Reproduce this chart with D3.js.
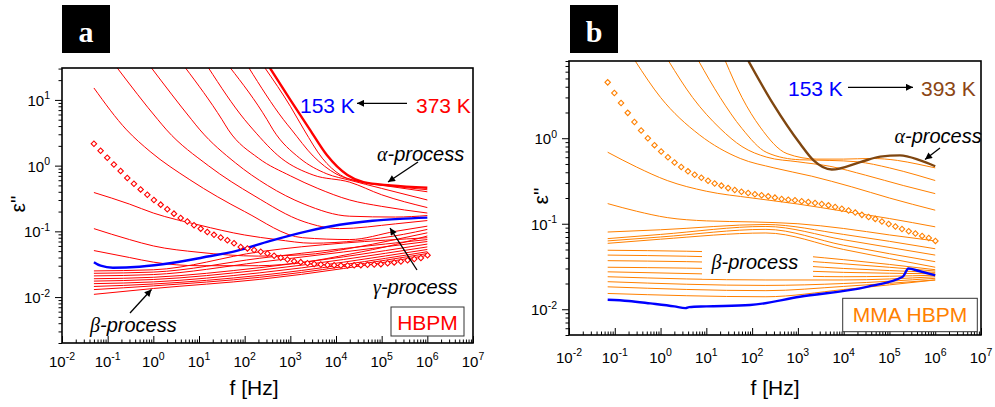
<!DOCTYPE html>
<html><head><meta charset="utf-8">
<script src="https://cdn.jsdelivr.net/npm/d3@7"></script>
<style>body{margin:0;background:#fff}svg{display:block}</style>
</head><body>
<svg id="c" width="995" height="407"></svg>
<script>
// ---------------- DATA ----------------
const xTickExps = [-2,-1,0,1,2,3,4,5,6,7];
const aYTickExps = [-2,-1,0,1];
const bYTickExps = [-2,-1,0];

// frequencies of the diamond-marked spectra (Hz)
const diamondFreq = [0.05,0.07,0.098,0.137,0.192,0.269,0.376,0.527,0.738,1.03,1.45,2.02,2.83,3.97,5.56,7.78,10.9,15.2,21.3,29.9,41.8,58.5,81.9,115,161,225,315,441,617,864,1210,1690,2370,3320,4650,6510,9110,12800,17900,25000,35000,49000,68600,96100,135000,188000,264000,369000,517000,723000,1010000];
const aDiamonds = [2.15,1.68,1.32,1.04,0.83,0.65,0.53,0.435,0.36,0.30,0.255,0.217,0.186,0.16,0.141,0.124,0.11,0.098,0.0885,0.0805,0.073,0.066,0.058,0.055,0.052,0.049,0.046,0.0425,0.0396,0.0373,0.0352,0.034,0.0328,0.0319,0.0313,0.0308,0.0305,0.0303,0.0303,0.0304,0.0306,0.031,0.0313,0.0317,0.0327,0.0337,0.0347,0.0364,0.038,0.0392,0.0433];
const bDiamonds = [4.50,3.38,2.58,1.98,1.55,1.23,1.00,0.83,0.70,0.60,0.52,0.46,0.41,0.374,0.345,0.318,0.296,0.279,0.261,0.248,0.237,0.229,0.221,0.215,0.209,0.202,0.195,0.191,0.188,0.183,0.18,0.175,0.17,0.164,0.157,0.150,0.143,0.135,0.127,0.12,0.114,0.106,0.0995,0.0927,0.0869,0.0818,0.0769,0.0721,0.0683,0.063];

// Panel a (HBPM): [f (Hz), eps'']
const aHot373 = [[316,35],[1000,10],[2700,3.5],[6300,1.45],[17800,0.72],[40000,0.56],[160000,0.50],[1e6,0.46]];
const aCold153 = [[0.05,0.034],[0.07,0.030],[0.13,0.028],[0.5,0.029],[2.5,0.033],[12,0.040],[70,0.051],[350,0.071],[2300,0.10],[12000,0.126],[63000,0.145],[250000,0.155],[1e6,0.162]];
const aUpper = [
  [[275,31],[1000,8],[2000,3.5],[5000,1.3],[12600,0.72],[40000,0.56],[160000,0.49],[1e6,0.43]],
  [[123,31],[710,5],[1070,3.5],[3160,1.4],[1e4,0.75],[31600,0.57],[160000,0.48],[1e6,0.40]],
  [[48,31],[310,5],[420,3.5],[1600,1.3],[6300,0.75],[20000,0.6],[1e5,0.45],[1e6,0.30]],
  [[16,31],[100,5],[155,3.5],[630,1.3],[3160,0.72],[20000,0.56],[1e5,0.36],[1e6,0.23]],
  [[5,31],[32,5],[44,3.5],[200,1.3],[1000,0.7],[4000,0.45],[20000,0.3],[1e5,0.24],[1e6,0.19]],
  [[0.9,31],[6.9,5],[10.5,3.5],[63,1.1],[316,0.5],[2000,0.26],[20000,0.17],[2e5,0.165],[1e6,0.174]],
  [[0.16,31],[1.26,5],[1.95,3.5],[16,1.0],[160,0.35],[2000,0.14],[12000,0.11],[2e5,0.13],[1e6,0.146]],
  [[0.05,15.2],[0.26,3.5],[0.85,1.64],[6.3,0.61],[100,0.2],[1860,0.08],[2e4,0.075],[2e5,0.1],[1e6,0.12]],
  [[0.05,0.39],[0.3,0.26],[1,0.19],[10,0.125],[100,0.088],[500,0.075],[3000,0.066],[3e4,0.072],[3e5,0.09],[1e6,0.107]],
  [[0.05,0.11],[0.3,0.075],[1,0.06],[10,0.048],[200,0.042],[2000,0.044],[2e4,0.055],[2e5,0.075],[1e6,0.095]],
  [[0.05,0.051],[0.3,0.04],[1,0.034],[10,0.03],[200,0.03],[2000,0.034],[2e4,0.045],[2e5,0.063],[1e6,0.085]]
];
const aBundleFreq = [0.05,1,215,1e6];
const aBundle = [
  [0.025,0.026,0.049,0.080],
  [0.023,0.024,0.039,0.075],
  [0.021,0.022,0.034,0.070],
  [0.019,0.020,0.028,0.064],
  [0.0175,0.0185,0.0257,0.058],
  [0.016,0.017,0.0234,0.053],
  [0.0145,0.0158,0.0214,0.049],
  [0.013,0.0148,0.020,0.046],
  [0.011,0.0135,0.0186,0.043]
];

// Panel b (MMA HBPM)
const bHot393 = [[83,8],[290,2.5],[1120,0.86],[2200,0.55],[5500,0.43],[23000,0.525],[63000,0.61],[170000,0.63],[470000,0.55],[1e6,0.47]];
const bCold153 = [[0.07,0.0129],[0.2,0.0125],[0.6,0.0117],[2,0.0108],[3.5,0.0103],[4.2,0.0106],[10,0.0108],[90,0.0112],[1100,0.014],[32000,0.0183],[1.95e5,0.024],[2.6e5,0.030],[4.4e5,0.028],[1e6,0.025]];
const bUpper = [
  [[26,8],[60,3],[150,1.35],[580,0.66],[2600,0.57],[1e4,0.57],[4e4,0.58],[1.5e5,0.55],[4e5,0.5],[1e6,0.45]],
  [[6.8,8],[20,3],[60,1.3],[210,0.68],[1100,0.56],[5000,0.55],[2e4,0.53],[1e5,0.45],[4e5,0.37],[1e6,0.32]],
  [[1.5,8],[5,3],[20,1.3],[60,0.8],[210,0.6],[1000,0.53],[5000,0.47],[3e4,0.37],[2e5,0.28],[1e6,0.225]],
  [[0.28,8],[1,3],[7,1.1],[55,0.58],[300,0.45],[2000,0.36],[1.5e4,0.27],[1e5,0.2],[1e6,0.144]],
  [[0.07,0.686],[0.3,0.46],[1.4,0.32],[10,0.24],[100,0.2],[1000,0.17],[1e4,0.14],[1e5,0.115],[1e6,0.092]],
  [[0.07,0.172],[0.3,0.14],[1.4,0.118],[10,0.108],[100,0.105],[1000,0.1],[1e4,0.088],[1e5,0.074],[1e6,0.063]],
  [[0.07,0.08],[1,0.085],[200,0.098],[1e4,0.075],[1e6,0.051]],
  [[0.07,0.067],[1,0.075],[200,0.093],[1e4,0.065],[1e6,0.043]],
  [[0.07,0.063],[1,0.07],[200,0.086],[1e4,0.056],[1e6,0.036]],
  [[0.07,0.059],[1,0.066],[200,0.078],[1e4,0.05],[1e6,0.031]]
];
const bBundleFreq = [0.07,200,1e4,1e6];
const bBundle = [
  [0.049,0.045,0.038,0.029],
  [0.043,0.039,0.034,0.028],
  [0.037,0.034,0.030,0.027],
  [0.031,0.029,0.027,0.026],
  [0.0274,0.025,0.024,0.025],
  [0.024,0.022,0.022,0.024],
  [0.021,0.019,0.020,0.023],
  [0.0183,0.0165,0.0185,0.022],
  [0.0153,0.014,0.017,0.022]
];

// ---------------- DRAWING ----------------
const FONT = "'Liberation Sans', Arial, sans-serif";
const svg = d3.select('#c');
const defs = svg.append('defs');
defs.append('marker').attr('id','ah').attr('viewBox','0 0 10 10').attr('refX',10).attr('refY',5)
  .attr('markerWidth',10).attr('markerHeight',7).attr('markerUnits','userSpaceOnUse').attr('orient','auto')
  .append('path').attr('d','M0,0L10,5L0,10Z').attr('fill','#000');

function drawPanel(p){
  const x = d3.scaleLog().domain([1e-2,1e7]).range([p.l,p.r]);
  const y = d3.scaleLog().domain(p.yDom).range([p.b,p.t]);
  const g = svg.append('g');
  defs.append('clipPath').attr('id','clip'+p.id).append('rect')
    .attr('x',p.l).attr('y',p.t).attr('width',p.r-p.l).attr('height',p.b-p.t);
  const cg = g.append('g').attr('clip-path',`url(#clip${p.id})`);
  const line = d3.line().x(d=>x(d[0])).y(d=>y(d[1])).curve(d3.curveMonotoneX);
  const thin = p.upper.concat(p.bundle.map(v=>v.map((e,i)=>[p.bundleFreq[i],e])));
  thin.forEach(c=>cg.append('path').attr('d',line(c)).attr('fill','none')
      .attr('stroke',p.color).attr('stroke-width',1));
  cg.append('path').attr('d',line(p.cold)).attr('fill','none').attr('stroke','#0000ff').attr('stroke-width',2.4);
  cg.append('path').attr('d',line(p.hot)).attr('fill','none').attr('stroke',p.hotColor).attr('stroke-width',2.4);
  const sym = d3.symbol().type(d3.symbolSquare).size(15);
  cg.selectAll('path.dm').data(p.diamonds).join('path').attr('class','dm')
    .attr('d',sym()).attr('transform',(d,i)=>`translate(${x(p.diamondFreq[i])},${y(d)}) rotate(45)`)
    .attr('fill','#fff').attr('stroke',p.color).attr('stroke-width',1.1);

  // axes
  const xMajor = xTickExps.map(e=>Math.pow(10,e));
  const xMinor = [];
  for(let e=-2;e<7;e++) for(let k=2;k<10;k++) xMinor.push(k*Math.pow(10,e));
  const yMinor = [];
  for(let e=-3;e<2;e++) for(let k=2;k<10;k++){const v=k*Math.pow(10,e); if(v>=p.yDom[0]&&v<=p.yDom[1]) yMinor.push(v);}
  const yMajor = p.yExps.map(e=>Math.pow(10,e));
  const ax = g.append('g').attr('transform',`translate(0,${p.b})`);
  ax.call(d3.axisBottom(x).tickValues(xMinor).tickSize(-3.5).tickFormat(''));
  ax.append('g').call(d3.axisBottom(x).tickValues(xMajor).tickSize(-7).tickFormat(''));
  const ay = g.append('g').attr('transform',`translate(${p.l},0)`);
  ay.call(d3.axisLeft(y).tickValues(yMinor).tickSize(3.5).tickFormat(''));
  ay.append('g').call(d3.axisLeft(y).tickValues(yMajor).tickSize(7).tickFormat(''));
  g.selectAll('.domain').remove();
  g.selectAll('.tick line').attr('stroke','#000').attr('stroke-width',1);
  g.append('rect').attr('x',p.l).attr('y',p.t).attr('width',p.r-p.l).attr('height',p.b-p.t)
    .attr('fill','none').attr('stroke','#000').attr('stroke-width',1.6);

  // tick labels
  xTickExps.forEach(e=>{
    const t = g.append('text').attr('x',x(Math.pow(10,e))).attr('y',p.xLabY).attr('text-anchor','middle')
      .attr('font-family',FONT).attr('font-size',15).attr('fill','#000');
    t.append('tspan').text('10');
    t.append('tspan').attr('dy',-6.5).attr('font-size',10.5).text(String(e).replace('-','-'));
  });
  p.yExps.forEach(e=>{
    const t = g.append('text').attr('x',p.l-12).attr('y',y(Math.pow(10,e))+6).attr('text-anchor','end')
      .attr('font-family',FONT).attr('font-size',15).attr('fill','#000');
    t.append('tspan').text('10');
    t.append('tspan').attr('dy',-6.5).attr('font-size',10.5).text(String(e));
  });
  // axis titles
  g.append('text').attr('x',p.fx).attr('y',395).attr('text-anchor','middle').attr('font-family',FONT)
    .attr('font-size',21).text('f [Hz]');
  g.append('text').attr('transform',`translate(${p.ex},${p.ey}) rotate(-90)`).attr('text-anchor','middle')
    .attr('font-family',FONT).attr('font-size',21).text('\u03b5"');
  // panel letter
  g.append('rect').attr('x',p.boxX).attr('y',5).attr('width',48).attr('height',48).attr('fill','#000');
  g.append('text').attr('x',p.boxX+24).attr('y',42).attr('text-anchor','middle')
    .attr('font-family',"'Liberation Serif', 'Times New Roman', serif").attr('font-weight','bold')
    .attr('font-size',30).attr('fill','#fff').text(p.id);
  return {g,x,y};
}

function italicLabel(g, xx, yy, greek, size){
  const t = g.append('text').attr('x',xx).attr('y',yy).attr('font-family',FONT)
    .attr('font-size',size||20).attr('font-style','italic').attr('fill','#000');
  t.append('tspan').attr('font-family',"'Liberation Serif', serif").text(greek);
  t.append('tspan').text('-process');
  return t;
}
function arrow(g,x1,y1,x2,y2){
  g.append('line').attr('x1',x1).attr('y1',y1).attr('x2',x2).attr('y2',y2)
    .attr('stroke','#000').attr('stroke-width',1.3).attr('marker-end','url(#ah)');
}

// Panel a
const A = drawPanel({id:'a',l:62,r:473,t:68,b:343,yDom:[0.002,30.6],yExps:aYTickExps,color:'#ff0000',
  hotColor:'#ff0000',hot:aHot373,cold:aCold153,upper:aUpper,bundle:aBundle,bundleFreq:aBundleFreq,
  diamonds:aDiamonds,diamondFreq:diamondFreq,xLabY:366.5,fx:254,ex:25,ey:204,boxX:62});
const ga = A.g;
ga.append('text').attr('x',300).attr('y',112.7).attr('font-family',FONT).attr('font-size',21).attr('fill','#0000ff').text('153 K');
ga.append('text').attr('x',416).attr('y',112.7).attr('font-family',FONT).attr('font-size',21).attr('fill','#ff0000').text('373 K');
arrow(ga,407,103.3,357,103.3);
italicLabel(ga,377,161,'\u03b1');
arrow(ga,418,162,388,182);
italicLabel(ga,373,294,'\u03b3');
arrow(ga,417,270,390,228);
italicLabel(ga,90,331.5,'\u03b2');
arrow(ga,130,313,151.5,289.5);
ga.append('rect').attr('x',391).attr('y',307).attr('width',73).attr('height',29).attr('fill','#fff').attr('stroke','#333').attr('stroke-width',1);
ga.append('text').attr('x',427.5).attr('y',329.5).attr('text-anchor','middle').attr('font-family',FONT).attr('font-size',21).attr('fill','#ff0000').text('HBPM');

// Panel b
const B = drawPanel({id:'b',l:569,r:981,t:61,b:335,yDom:[0.005,8],yExps:bYTickExps,color:'#ff8000',
  hotColor:'#7f4610',hot:bHot393,cold:bCold153,upper:bUpper,bundle:bBundle,bundleFreq:bBundleFreq,
  diamonds:bDiamonds,diamondFreq:diamondFreq.slice(1),xLabY:362.5,fx:775,ex:548,ey:196,boxX:570});
const gb = B.g;
gb.append('text').attr('x',788).attr('y',95.5).attr('font-family',FONT).attr('font-size',21).attr('fill','#0000ff').text('153 K');
gb.append('text').attr('x',921).attr('y',95.5).attr('font-family',FONT).attr('font-size',21).attr('fill','#8b4513').text('393 K');
arrow(gb,848,87.3,913,87.3);
italicLabel(gb,894.5,142.5,'\u03b1');
arrow(gb,940,148,925,159.5);
gb.append('rect').attr('x',702).attr('y',243.5).attr('width',111).attr('height',35).attr('fill','#fff');
italicLabel(gb,711.5,269.3,'\u03b2');
gb.append('rect').attr('x',842.7).attr('y',298.3).attr('width',134.6).attr('height',33.4).attr('fill','#fff').attr('stroke','#333').attr('stroke-width',1);
gb.append('text').attr('x',910).attr('y',322).attr('text-anchor','middle').attr('font-family',FONT).attr('font-size',21).attr('fill','#ff8000').text('MMA HBPM');
</script>
</body></html>
